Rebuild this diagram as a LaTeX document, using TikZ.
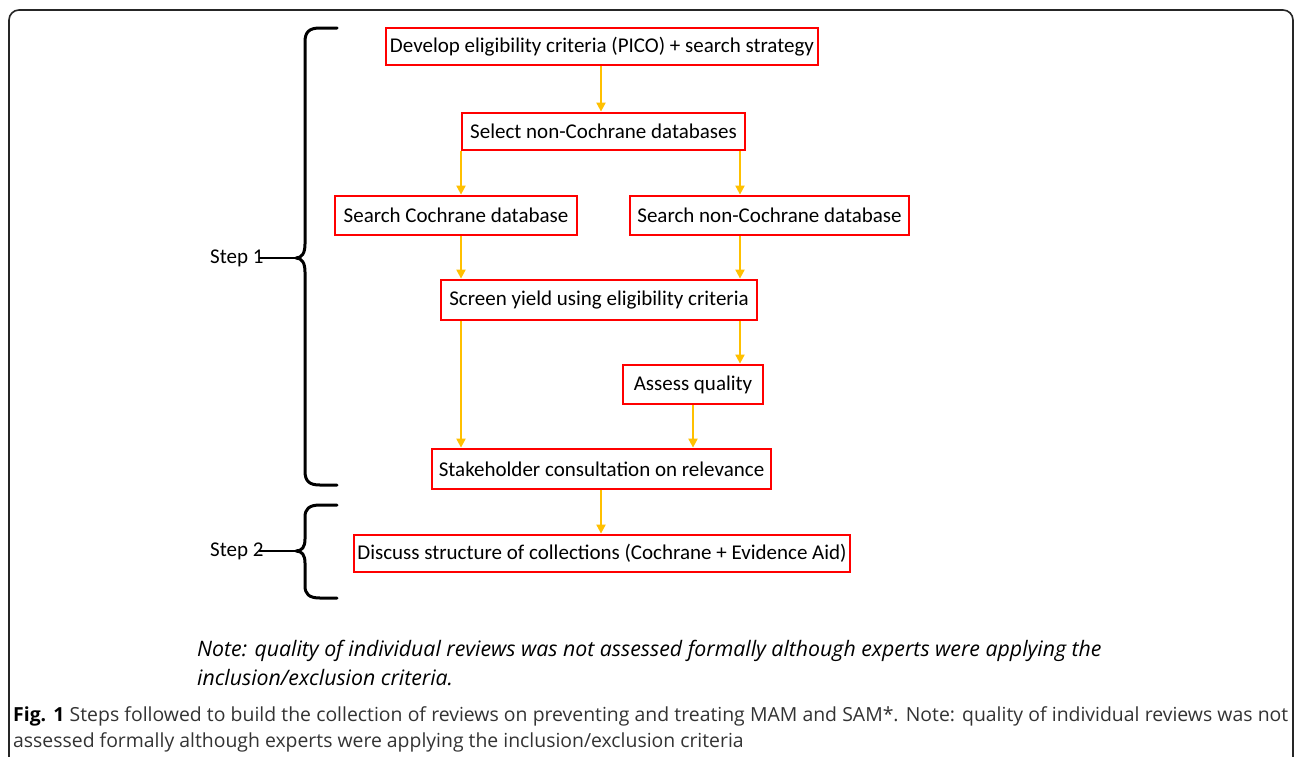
\documentclass[tikz,border=0pt]{standalone}
\usepackage{fontspec}
\setmainfont{Carlito}
\newfontfamily\capfont{Open Sans}
\usetikzlibrary{arrows.meta}
\definecolor{boxred}{HTML}{FF0000}
\definecolor{arrowor}{HTML}{FFC000}
\definecolor{captext}{HTML}{333333}
\begin{document}
\begin{tikzpicture}[x=1pt,y=-1pt,
  stepbox/.style={draw=boxred, line width=2.8pt, inner sep=0pt, font=\fontsize{21}{24}\selectfont, anchor=center},
  flow/.style={draw=arrowor, line width=2pt, -{Triangle[length=9pt,width=9pt]}},
  bracepath/.style={draw=black, line width=3pt, line cap=round, line join=round},
  steplabel/.style={font=\fontsize{21}{24}\selectfont, anchor=west, inner sep=0pt},
  notetext/.style={anchor=base west, inner sep=0pt, font=\capfont\fontsize{21.3}{29}\selectfont\itshape},
  captiontext/.style={anchor=base west, inner sep=0pt, text=captext, font=\capfont\fontsize{19.4}{26}\selectfont}
]
\useasboundingbox (0,0) rectangle (1295,756);
\fill[white] (0,0) rectangle (1295,756);
\begin{scope}
\clip (0,0) rectangle (1295,756);
\draw[line width=1.6pt, rounded corners=10pt, black!85] (9,790) -- (9,10) -- (1293,10) -- (1293,790);
\end{scope}

\node[stepbox, minimum width=432pt, minimum height=37pt] (b1) at (602,46.5) {Develop eligibility criteria (PICO) + search strategy};
\node[stepbox, minimum width=283pt, minimum height=37pt] (b2) at (603.5,131.5) {Select non-Cochrane databases};
\node[stepbox, minimum width=242pt, minimum height=39pt] (b3) at (456,215.5) {Search Cochrane database};
\node[stepbox, minimum width=279pt, minimum height=39pt] (b4) at (769.5,215.5) {Search non-Cochrane database};
\node[stepbox, minimum width=316pt, minimum height=40pt] (b5) at (599,300) {Screen yield using eligibility criteria};
\node[stepbox, minimum width=140pt, minimum height=39pt] (b6) at (693,384.5) {Assess quality};
\node[stepbox, minimum width=339pt, minimum height=40pt] (b7) at (601.5,469) {Stakeholder consultation on relevance};
\node[stepbox, minimum width=496pt, minimum height=37pt] (b8) at (602,553.5) {Discuss structure of collections (Cochrane + Evidence Aid)};

\coordinate (cL) at (461,0);
\coordinate (cR) at (740,0);
\coordinate (cM) at (601,0);
\coordinate (cQ) at (693,0);

\draw[flow] (b1.south -| cM) -- (b2.north -| cM);
\draw[flow] (b2.south -| cL) -- (b3.north -| cL);
\draw[flow] (b2.south -| cR) -- (b4.north -| cR);
\draw[flow] (b3.south -| cL) -- (b5.north -| cL);
\draw[flow] (b4.south -| cR) -- (b5.north -| cR);
\draw[flow] (b5.south -| cL) -- (b7.north -| cL);
\draw[flow] (b5.south -| cR) -- (b6.north -| cR);
\draw[flow] (b6.south -| cQ) -- (b7.north -| cQ);
\draw[flow] (b7.south -| cM) -- (b8.north -| cM);

% braces
\coordinate (t1) at (296,258);
\coordinate (t2) at (296,551);
\draw[bracepath] (337,28) -- (320,28) .. controls (309,28) and (305,32) .. (305,42) -- (305,244) .. controls (305,253) and (302,258) .. (t1) .. controls (302,258) and (305,263) .. (305,272) -- (305,471) .. controls (305,481) and (309,485) .. (320,485) -- (337,485);
\draw[bracepath] (337,505) -- (320,505) .. controls (309,505) and (305,509) .. (305,517) -- (305,539) .. controls (305,547) and (302,551) .. (t2) .. controls (302,551) and (305,555) .. (305,563) -- (305,586) .. controls (305,594) and (309,598) .. (320,598) -- (337,598);

\node[steplabel] (s1) at (210,258) {Step 1};
\node[steplabel] (s2) at (210,551) {Step 2};
\draw[bracepath, line width=2.6pt] ([xshift=-4pt]s1.east) -- (t1);
\draw[bracepath, line width=2.6pt] ([xshift=-4pt]s2.east) -- (t2);

\node[notetext] (note1) at (197,656) {Note: quality of individual reviews was not assessed formally although experts were applying the};
\node[notetext] (note2) at (197,685) {inclusion/exclusion criteria.};

\node[captiontext] (cap1) at (13,721) {\makebox[1275pt][s]{\textbf{\color{black}Fig. 1} Steps followed to build the collection of reviews on preventing and treating MAM and SAM*. Note: quality of individual reviews was not}};
\node[captiontext] (cap2) at (13,747) {assessed formally although experts were applying the inclusion/exclusion criteria};
\end{tikzpicture}
\end{document}
